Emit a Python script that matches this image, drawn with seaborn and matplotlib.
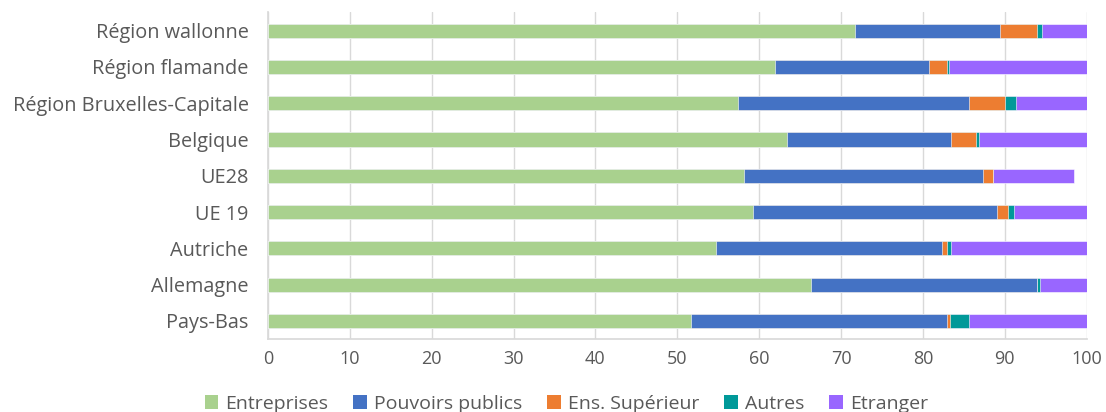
import matplotlib
matplotlib.use("Agg")
import matplotlib.pyplot as plt
import numpy as np
import pandas as pd
import seaborn as sns
from matplotlib.patches import Patch

# Répartition du financement de la R&D par source (%)
regions = ["Région wallonne", "Région flamande", "Région Bruxelles-Capitale",
           "Belgique", "UE28", "UE 19", "Autriche", "Allemagne", "Pays-Bas"]
entreprises = [71.7, 61.9, 57.4, 63.4, 58.1, 59.3, 54.7, 66.3, 51.7]
pouvoirs_publics = [17.7, 18.9, 28.2, 20.0, 29.3, 29.8, 27.6, 27.7, 31.3]
ens_superieur = [4.6, 2.1, 4.5, 3.1, 1.2, 1.3, 0.7, 0.0, 0.3]
autres = [0.6, 0.3, 1.3, 0.4, 0.0, 0.7, 0.4, 0.3, 2.4]
etranger = [5.4, 16.8, 8.6, 13.1, 9.9, 8.9, 16.6, 5.7, 14.3]

series = ["Entreprises", "Pouvoirs publics", "Ens. Supérieur", "Autres", "Etranger"]
colors = ["#A9D18E", "#4472C4", "#ED7D31", "#009999", "#9966FF"]

df = pd.DataFrame({
    "Région": regions,
    "Entreprises": entreprises,
    "Pouvoirs publics": pouvoirs_publics,
    "Ens. Supérieur": ens_superieur,
    "Autres": autres,
    "Etranger": etranger,
})
cum = df[series].cumsum(axis=1)
cum["Région"] = df["Région"]

sns.set_theme(style="white")
plt.rcParams["font.family"] = ["Open Sans", "DejaVu Sans"]
text_color = "#595959"

fig = plt.figure(figsize=(11.06, 4.12), dpi=100)
ax = fig.add_axes([0.2423, 0.1772, 0.7401, 0.7925])

# stacked bars: draw cumulative totals from the outermost segment inwards
for name, col in reversed(list(zip(series, colors))):
    sns.barplot(data=cum, y="Région", x=name, order=regions, color=col,
                orient="h", width=0.39, ax=ax, saturation=1,
                edgecolor="white", linewidth=0.4, zorder=3)

ax.set_xlim(0, 100)
ax.set_xticks(np.arange(0, 101, 10))
ax.set_xlabel("")
ax.set_ylabel("")
ax.xaxis.grid(True, color="#D9D9D9", linewidth=1.0, zorder=0)
ax.set_axisbelow(True)
for side in ["top", "right"]:
    ax.spines[side].set_visible(False)
ax.spines["left"].set_color("#D9D9D9")
ax.spines["bottom"].set_color("#D9D9D9")
ax.tick_params(axis="both", length=0, colors=text_color)
ax.tick_params(axis="x", pad=8, labelsize=13)
ax.tick_params(axis="y", pad=14, labelsize=14.3)

handles = [Patch(facecolor=c, edgecolor="none") for c in colors]
fig.legend(handles, series, loc="center", bbox_to_anchor=(0.512, 0.02),
           ncol=5, frameon=False, fontsize=14, labelcolor=text_color,
           handlelength=0.7, handleheight=0.7, handletextpad=0.35,
           columnspacing=1.3)

fig.savefig("out.png", dpi=100)
